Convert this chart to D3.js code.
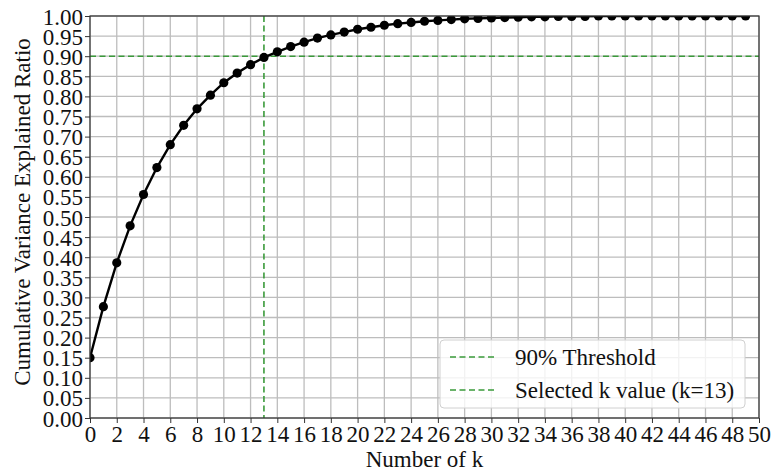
<!DOCTYPE html>
<html>
<head>
<meta charset="utf-8">
<script src="https://cdn.jsdelivr.net/npm/d3@7"></script>
<style>
  body { margin: 0; background: #fff; }
  svg text { font-family: "Liberation Serif", "Times New Roman", serif; fill: #111; }
</style>
</head>
<body>
<div id="chartArea"></div>
<script>
// data setup
var kValues = d3.range(0, 50);
var cumRatio = [
  0.150, 0.277, 0.386, 0.478, 0.556, 0.623, 0.680, 0.728, 0.769, 0.803,
  0.834, 0.858, 0.879, 0.897, 0.911, 0.924, 0.935, 0.945, 0.953, 0.960,
  0.967, 0.972, 0.977, 0.981, 0.984, 0.987, 0.989, 0.991, 0.993, 0.994,
  0.995, 0.996, 0.997, 0.998, 0.998, 0.999, 0.999, 0.999, 1.000, 1.000,
  1.000, 1.000, 1.000, 1.000, 1.000, 1.000, 1.000, 1.000, 1.000, 1.000
];
var xTicks = d3.range(0, 51, 2);
var yTicks = d3.range(0, 21).map(function(i) { return i * 0.05; });
var threshold = 0.90;
var selectedK = 13;
var legendLabels = ["90% Threshold", "Selected k value (k=13)"];

// set the dimensions and margins of the graph
var margin = { top: 16, right: 12, bottom: 54, left: 90 },
  width = 771 - margin.left - margin.right,
  height = 472 - margin.top - margin.bottom;

var x = d3.scaleLinear().domain([0, 50]).range([0, width]);
var y = d3.scaleLinear().domain([0, 1]).range([height, 0]);

var root = d3.select("#chartArea").append("svg")
  .attr("width", 771)
  .attr("height", 472);
var svg = root.append("g")
  .attr("transform", "translate(" + margin.left + "," + margin.top + ")");

root.append("defs").append("clipPath").attr("id", "plotClip")
  .append("rect").attr("width", width).attr("height", height);

// grid
svg.append("g").selectAll("line.vg")
  .data(xTicks).enter().append("line")
  .attr("x1", function(d) { return x(d); }).attr("x2", function(d) { return x(d); })
  .attr("y1", 0).attr("y2", height)
  .attr("stroke", "#bdbdbd").attr("stroke-width", 1.3);
svg.append("g").selectAll("line.hg")
  .data(yTicks).enter().append("line")
  .attr("y1", function(d) { return y(d); }).attr("y2", function(d) { return y(d); })
  .attr("x1", 0).attr("x2", width)
  .attr("stroke", "#bdbdbd").attr("stroke-width", 1.3);

// reference lines
var green = "#3a9a3a";
svg.append("line")
  .attr("x1", 0).attr("x2", width)
  .attr("y1", y(threshold)).attr("y2", y(threshold))
  .attr("stroke", green).attr("stroke-width", 1.6).attr("stroke-dasharray", "6,3.5");
svg.append("line")
  .attr("x1", x(selectedK)).attr("x2", x(selectedK))
  .attr("y1", 0).attr("y2", height)
  .attr("stroke", green).attr("stroke-width", 1.6).attr("stroke-dasharray", "6,3.5");

// curve (clipped to the plot area)
var data = kValues.map(function(k, i) { return { k: k, v: cumRatio[i] }; });
var valueline = d3.line()
  .x(function(d) { return x(d.k); })
  .y(function(d) { return y(d.v); });
var curve = svg.append("g").attr("clip-path", "url(#plotClip)");
curve.append("path")
  .datum(data)
  .attr("fill", "none")
  .attr("stroke", "#000")
  .attr("stroke-width", 2.4)
  .attr("d", valueline);
curve.selectAll("circle")
  .data(data).enter().append("circle")
  .attr("cx", function(d) { return x(d.k); })
  .attr("cy", function(d) { return y(d.v); })
  .attr("r", 4.6)
  .attr("fill", "#000");

// frame
svg.append("rect")
  .attr("width", width).attr("height", height)
  .attr("fill", "none").attr("stroke", "#333").attr("stroke-width", 1.2);

// axes
var xAxis = svg.append("g")
  .attr("transform", "translate(0," + height + ")")
  .call(d3.axisBottom(x).tickValues(xTicks).tickSize(5).tickPadding(3).tickFormat(d3.format("d")));
var yAxis = svg.append("g")
  .call(d3.axisLeft(y).tickValues(yTicks).tickSize(5).tickPadding(2).tickFormat(d3.format(".2f")));
[xAxis, yAxis].forEach(function(a) {
  a.select(".domain").remove();
  a.selectAll("line").attr("stroke", "#333");
  a.selectAll("text").style("font-size", "23px").attr("fill", "#111");
});
yAxis.selectAll("text").attr("dy", "0.35em");

// labels
svg.append("text")
  .attr("x", width / 2).attr("y", height + 49)
  .attr("text-anchor", "middle")
  .style("font-size", "23px")
  .text("Number of k");
svg.append("text")
  .attr("transform", "translate(" + (-60) + "," + (height / 2 - 5) + ") rotate(-90)")
  .attr("text-anchor", "middle")
  .style("font-size", "23px")
  .text("Cumulative Variance Explained Ratio");

// legend
var lg = svg.append("g").attr("transform", "translate(" + (440 - margin.left) + "," + (340 - margin.top) + ")");
lg.append("rect")
  .attr("width", 305).attr("height", 68)
  .attr("rx", 4)
  .attr("fill", "#fff").attr("fill-opacity", 0.8)
  .attr("stroke", "#d0d0d0").attr("stroke-width", 1);
legendLabels.forEach(function(t, i) {
  var cy = 17 + i * 33;
  lg.append("line")
    .attr("x1", 10).attr("x2", 57)
    .attr("y1", cy).attr("y2", cy)
    .attr("stroke", green).attr("stroke-width", 1.6).attr("stroke-dasharray", "6,3.5");
  lg.append("text")
    .attr("x", 75).attr("y", cy).attr("dy", "0.35em")
    .style("font-size", "23px")
    .text(t);
});
</script>
</body>
</html>
